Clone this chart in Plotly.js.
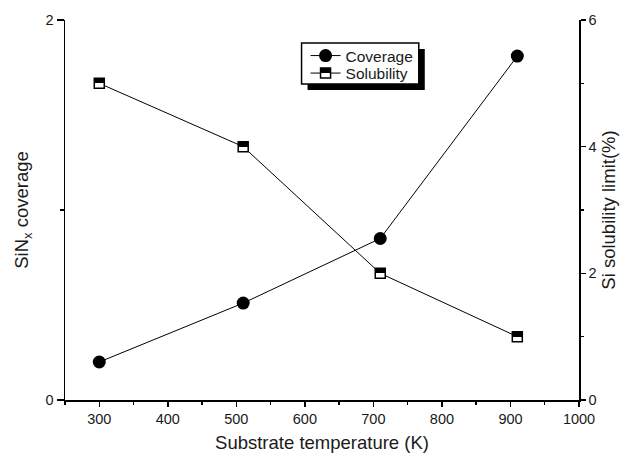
<!DOCTYPE html>
<html>
<head>
<meta charset="utf-8">
<script src="https://cdn.plot.ly/plotly-3.0.1.min.js"></script>
<style>html,body{margin:0;padding:0;background:#fff;}#chart{width:627px;height:456px;}</style>
</head>
<body>
<div id="chart"></div>
<script>
// Data
const temperatures = [300, 510, 710, 910];
const coverage = [0.2, 0.51, 0.85, 1.81];
const solubility = [5.0, 4.0, 2.0, 1.0];
const xTitle = 'Substrate temperature (K)';
const yTitle = 'SiN<sub>x</sub> coverage';
const y2Title = 'Si solubility limit(%)';

const FONT = 'Liberation Sans, Arial, sans-serif';
const TXT = '#1a1a1a';

const traces = [
  {
    x: temperatures, y: coverage, name: 'Coverage', type: 'scatter', mode: 'lines+markers',
    line: {color: 'black', width: 1},
    marker: {symbol: 'circle', size: 13, color: 'black'},
    xaxis: 'x', yaxis: 'y'
  },
  {
    x: temperatures, y: solubility, name: 'Solubility', type: 'scatter', mode: 'lines+markers',
    line: {color: 'black', width: 1},
    marker: {symbol: 'square', size: 10, color: 'white', line: {color: 'black', width: 1.5}},
    xaxis: 'x', yaxis: 'y2'
  }
];

const axCommon = {
  showline: true, linecolor: 'black', linewidth: 1.5, showgrid: false, zeroline: false,
  tickcolor: 'black', tickwidth: 1.5, ticks: 'outside',
  tickfont: {family: FONT, size: 14.5, color: TXT}
};

const layout = {
  width: 627, height: 456,
  margin: {l: 65, r: 48, t: 20, b: 56},
  paper_bgcolor: 'white', plot_bgcolor: 'white',
  font: {family: FONT, color: TXT},
  showlegend: true,
  legend: {
    x: 0.468, y: 0.95, xanchor: 'left', yanchor: 'top',
    bgcolor: 'rgba(0,0,0,0)', borderwidth: 0,
    font: {family: FONT, size: 15.5, color: TXT},
    tracegroupgap: 0
  },
  xaxis: Object.assign({}, axCommon, {
    range: [250, 1000], dtick: 100, tick0: 0, ticklen: 5,
    minor: {dtick: 50, ticklen: 3, tickcolor: 'black', tickwidth: 1.5, ticks: 'outside'},
    title: {text: xTitle, font: {family: FONT, size: 18.5, color: TXT}, standoff: 10}
  }),
  xaxis2: {
    overlaying: 'x', side: 'top', anchor: 'y', range: [250, 1000],
    showline: true, linecolor: 'black', linewidth: 1.5, showgrid: false, zeroline: false,
    ticks: 'inside', ticklen: 5, tickwidth: 1.5, tickcolor: 'black', dtick: 100, tick0: 0,
    minor: {dtick: 50, ticklen: 3, tickcolor: 'black', tickwidth: 1.5, ticks: 'inside'},
    showticklabels: false
  },
  yaxis: Object.assign({}, axCommon, {
    range: [0, 2], dtick: 2, ticklen: 7,
    minor: {dtick: 1, ticklen: 4, tickcolor: 'black', tickwidth: 1.5, ticks: 'outside'},
    title: {text: yTitle, font: {family: FONT, size: 18.5, color: TXT}, standoff: 12}
  }),
  yaxis2: Object.assign({}, axCommon, {
    overlaying: 'y', side: 'right', anchor: 'x',
    range: [0, 6], dtick: 2, ticklen: 5,
    minor: {dtick: 1, ticklen: 3, tickcolor: 'black', tickwidth: 1.5, ticks: 'outside'},
    title: {text: y2Title, font: {family: FONT, size: 18.5, color: TXT}, standoff: 6}
  })
};

const ROW_GAP = 17.5;   // vertical spacing of the legend rows, px
const gd = document.getElementById('chart');

function centerOf(el) {
  const r = el.getBoundingClientRect();
  return {x: (r.left + r.right) / 2, y: (r.top + r.bottom) / 2, r: r};
}

Plotly.newPlot(gd, traces, layout, {displayModeBar: false, staticPlot: true}).then(function () {
  const fl = gd._fullLayout;
  const g = gd.getBoundingClientRect();
  const items = gd.querySelectorAll('.legend .traces');
  const bg = gd.querySelector('.legend rect.bg');
  if (items.length < 2 || !bg) return;
  // tighten the legend rows
  const p1 = items[0].querySelector('path.scatterpts');
  const p2 = items[1].querySelector('path.scatterpts');
  const c1 = centerOf(p1), c2 = centerOf(p2);
  const shift = (c1.y + ROW_GAP) - c2.y;
  const tr = items[1].getAttribute('transform') || '';
  const m = /translate\(\s*([-\d.e]+)[ ,]+([-\d.e]+)\s*\)/.exec(tr);
  if (m) items[1].setAttribute('transform', 'translate(' + m[1] + ',' + (parseFloat(m[2]) + shift) + ')');
  // legend box + drop shadow as paper shapes
  const br = bg.getBoundingClientRect();
  let textRight = 0;
  items.forEach(function (it) {
    const t = it.querySelector('text');
    if (t) textRight = Math.max(textRight, t.getBoundingClientRect().right);
  });
  const left = br.left - 4, right = textRight + 6;
  const top = c1.y - 12.7, bottom = c1.y + ROW_GAP + 11;
  const px = function (x) { return (x - g.left - fl._size.l) / fl._size.w; };
  const py = function (y) { return 1 - (y - g.top - fl._size.t) / fl._size.h; };
  const off = 6;
  return Plotly.relayout(gd, {shapes: [
    {type: 'rect', xref: 'paper', yref: 'paper', layer: 'above',
     x0: px(left + off), x1: px(right + off), y0: py(bottom + off), y1: py(top + off),
     fillcolor: 'black', line: {width: 0}},
    {type: 'rect', xref: 'paper', yref: 'paper', layer: 'above',
     x0: px(left), x1: px(right), y0: py(bottom), y1: py(top),
     fillcolor: 'white', line: {color: 'black', width: 1.5}}
  ]});
}).then(function () {
  // half-filled square markers (top black, bottom white)
  const svg = gd.querySelector('svg.main-svg');
  const ns = 'http://www.w3.org/2000/svg';
  const defs = svg.querySelector('defs');
  const lg = document.createElementNS(ns, 'linearGradient');
  lg.setAttribute('id', 'halfFill');
  lg.setAttribute('x1', '0'); lg.setAttribute('y1', '0');
  lg.setAttribute('x2', '0'); lg.setAttribute('y2', '1');
  [['0', 'black'], ['0.5', 'black'], ['0.5', 'white'], ['1', 'white']].forEach(function (s) {
    const st = document.createElementNS(ns, 'stop');
    st.setAttribute('offset', s[0]);
    st.setAttribute('stop-color', s[1]);
    lg.appendChild(st);
  });
  defs.appendChild(lg);
  const traceGroups = gd.querySelectorAll('.scatterlayer .trace');
  if (traceGroups[1]) {
    traceGroups[1].querySelectorAll('.point').forEach(function (p) { p.style.fill = 'url(#halfFill)'; });
  }
  const legendTraces = gd.querySelectorAll('.legend .traces');
  if (legendTraces[1]) {
    legendTraces[1].querySelectorAll('path.scatterpts').forEach(function (p) { p.style.fill = 'url(#halfFill)'; });
  }
});
</script>
</body>
</html>
